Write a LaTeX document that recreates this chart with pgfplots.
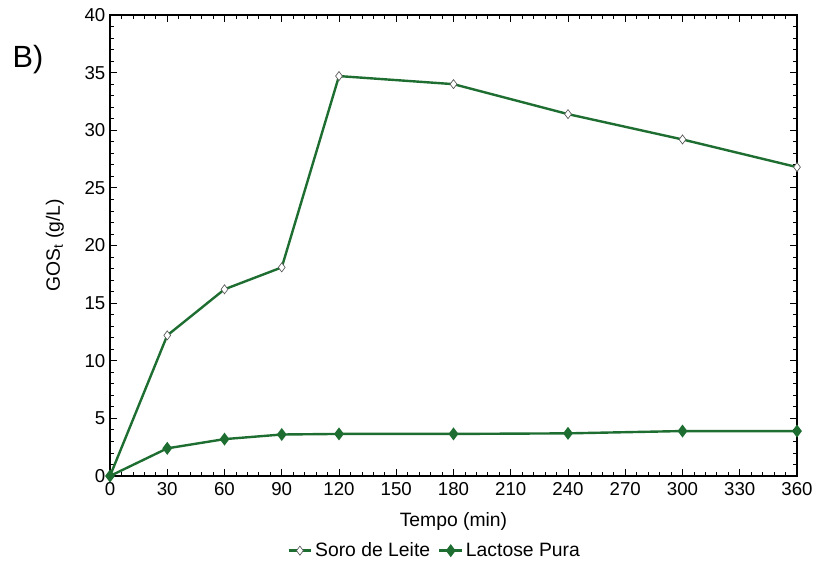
\documentclass[border=0pt]{standalone}
\usepackage{pgfplots}
\pgfplotsset{compat=1.18}
\usepackage{fontspec}
\setmainfont{Liberation Sans}
\definecolor{dgreen}{RGB}{30,110,50}
\begin{document}
\begin{tikzpicture}[x=0.75pt,y=0.75pt]
\useasboundingbox (-110,-87) rectangle (703,476);
\begin{axis}[
  at={(0,0)}, anchor=origin,
  scale only axis, width=515.25pt, height=345.75pt,
  xmin=0, xmax=360, ymin=0, ymax=40,
  xtick={0,30,...,360}, ytick={0,5,...,40},
  minor x tick num=4, minor y tick num=4,
  tick align=inside, tick pos=both,
  major tick length=5pt, minor tick length=3pt,
  every tick/.style={black, line width=0.6pt},
  axis line style={black, line width=0.8pt},
  /pgf/number format/assume math mode=true,
  ticklabel style={font=\fontsize{14pt}{16pt}\selectfont},
  xticklabel style={yshift=-1pt},
  label style={font=\fontsize{14.5pt}{17pt}\selectfont},
  xlabel={Tempo (min)},
  ylabel={GOS$_\mathrm{t}$ (g/L)},
  xlabel style={at={(axis description cs:0.5,0)}, anchor=north, yshift=-24pt},
  ylabel style={at={(axis description cs:0,0.5)}, anchor=south, yshift=31pt},
  legend style={draw=none, fill=none, at={(axis description cs:0.473,0)}, anchor=center, yshift=-56pt,
    legend columns=2, font=\fontsize{14.5pt}{17pt}\selectfont,
    /tikz/every even column/.append style={column sep=4pt}},
  clip=false,
]
\addplot[dgreen, line width=1.8pt, mark=diamond*, mark size=3.4pt, mark options={fill=white, draw=gray!70!black, line width=0.5pt}]
coordinates {(0,0) (30,12.2) (60,16.2) (90,18.1) (120,34.7) (180,34.0) (240,31.4) (300,29.2) (360,26.8)};
\addlegendentry{Soro de Leite}
\addplot[dgreen, line width=1.8pt, mark=diamond*, mark size=3.4pt, mark options={fill=dgreen, draw=dgreen}]
coordinates {(0,0) (30,2.4) (60,3.2) (90,3.6) (120,3.65) (180,3.65) (240,3.7) (300,3.9) (360,3.9)};
\addlegendentry{Lactose Pura}
\end{axis}
\node[anchor=base west, font=\fontsize{23pt}{26pt}\selectfont] at (-102,408) {B)};
\end{tikzpicture}
\end{document}
